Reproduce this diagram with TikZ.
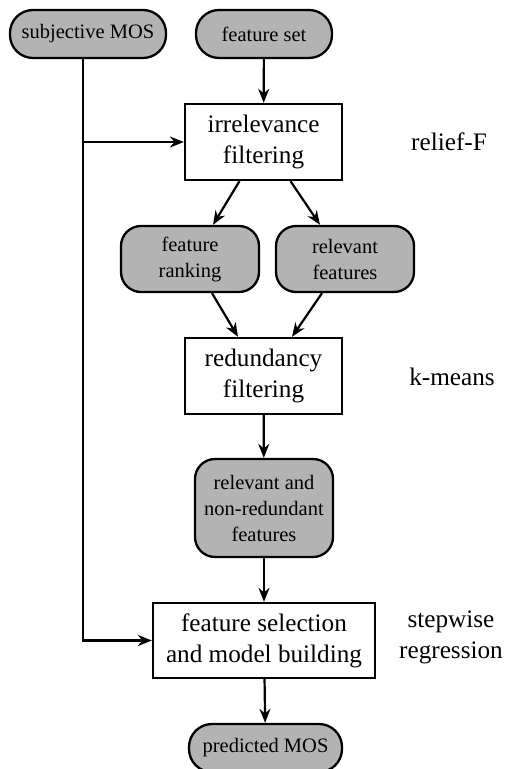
\documentclass[tikz,border=0pt]{standalone}
\usepackage{fontspec}
\setmainfont{Liberation Serif}
\usetikzlibrary{arrows.meta}
\definecolor{gfill}{RGB}{179,179,179}
\begin{document}
\begin{tikzpicture}[x=0.5pt,y=-0.5pt,
  every node/.style={inner sep=0pt, align=center},
  term/.style={draw, fill=gfill, line width=1.15pt, rounded corners=11.5pt, minimum height=24pt, font=\fontsize{10.25}{13}\selectfont},
  soft/.style={draw, fill=gfill, line width=1.15pt, rounded corners=10pt, font=\fontsize{10.25}{13}\selectfont},
  proc/.style={draw, fill=white, line width=1.15pt, font=\fontsize{12.6}{15.5}\selectfont},
  side/.style={font=\fontsize{12.6}{15.5}\selectfont},
  arr/.style={line width=1.1pt, -{Stealth[length=7pt,width=5.5pt]}}]
\useasboundingbox (0,0) rectangle (507,769);
\node[term, minimum width=78pt] (smos) at (88,34) {subjective MOS};
\node[term, minimum width=68pt] (fset) at (264,34) {feature set};
\node[proc, minimum width=78.5pt, minimum height=38pt] (irr) at (263.5,142) {irrelevance\\filtering};
\node[side] (relief) at (449,142) {relief-F};
\node[soft, minimum width=69pt, minimum height=33pt] (frank) at (190,259) {feature\\ranking};
\node[soft, minimum width=69pt, minimum height=33pt] (rfeat) at (345,259) {relevant\\features};
\node[proc, minimum width=78.5pt, minimum height=38pt] (red) at (263.5,376) {redundancy\\filtering};
\node[side] (kmeans) at (452,377) {k-means};
\node[soft, minimum width=69pt, minimum height=49pt] (rnr) at (264,508) {relevant and\\non-redundant\\features};
\node[proc, minimum width=111pt, minimum height=37.5pt] (fsel) at (264,640.5) {feature selection\\and model building};
\node[side] (step) at (451,637) {stepwise\\regression};
\node[term, minimum width=76.5pt] (pmos) at (265.5,748) {predicted MOS};
\coordinate (c1) at (83,142);
\coordinate (c2) at (83,639);
\draw[line width=1.1pt] (smos.south -| c1) -- (c1);
\draw[arr] (c1) -- (irr);
\draw[arr] (c1) |- (fsel);
\draw[arr] (fset) -- (irr);
\draw[arr] ([xshift=-12pt]irr.south) -- ([xshift=11.5pt]frank.north);
\draw[arr] ([xshift=13.5pt]irr.south) -- ([xshift=-12.5pt]rfeat.north);
\draw[arr] ([xshift=11pt]frank.south) -- ([xshift=-12.75pt]red.north);
\draw[arr] ([xshift=-11.5pt]rfeat.south) -- ([xshift=14.25pt]red.north);
\draw[arr] (red) -- (rnr);
\draw[arr] (rnr) -- (fsel);
\draw[arr] (fsel) -- (pmos);
\end{tikzpicture}
\end{document}
